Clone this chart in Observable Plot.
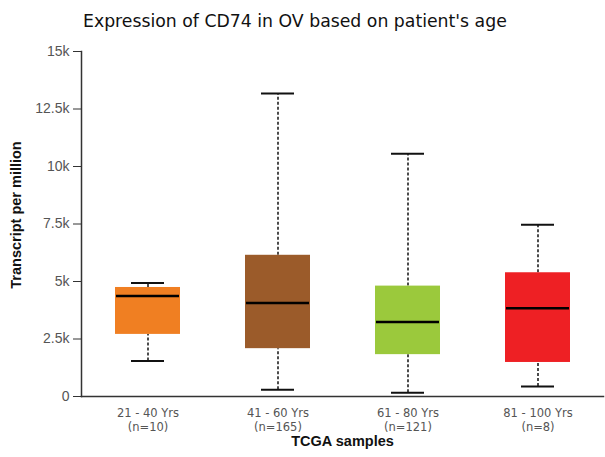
<!DOCTYPE html>
<html><head><meta charset="utf-8">
<script src="https://cdn.jsdelivr.net/npm/d3@7"></script>
<script src="https://cdn.jsdelivr.net/npm/@observablehq/plot@0.6"></script>
<style>
body{margin:0;background:#fff;}
#wrap{position:relative;width:605px;height:457px;overflow:hidden;}
#title{position:absolute;left:83px;top:11px;line-height:20px;font-family:"DejaVu Sans",sans-serif;font-size:17.3px;color:#111;white-space:nowrap;}
#chart{position:absolute;left:0;top:40px;}
</style></head><body>
<div id="wrap"><div id="title">Expression of CD74 in OV based on patient's age</div><div id="chart"></div></div>
<script>
const groups = ["21 - 40 Yrs", "41 - 60 Yrs", "61 - 80 Yrs", "81 - 100 Yrs"];
const counts = [10, 165, 121, 8];
const whiskerLow = [1540, 290, 160, 440];
const q1 = [2700, 2080, 1820, 1480];
const median = [4370, 4070, 3240, 3840];
const q3 = [4740, 6140, 4800, 5380];
const whiskerHigh = [4940, 13170, 10550, 7470];
const colors = ["#F07F22", "#9B5B2A", "#9BC93C", "#EE2024"];
const yTicks = [0, 2500, 5000, 7500, 10000, 12500, 15000];
const yTitle = "Transcript per million";
const xTitle = "TCGA samples";

const rows = groups.map((g, i) => ({
  group: g, lo: whiskerLow[i], q1: q1[i], med: median[i], q3: q3[i], hi: whiskerHigh[i], color: colors[i]
}));
const xLabel = new Map(groups.map((g, i) => [g, g + "\n(n=" + counts[i] + ")"]));

const chart = Plot.plot({
  width: 605,
  height: 417,
  marginTop: 11,
  marginBottom: 61,
  marginLeft: 81,
  marginRight: 2,
  style: {background: "#fff", overflow: "visible"},
  x: {domain: groups, paddingInner: 0.5, paddingOuter: 0.25, axis: null},
  y: {domain: [0, 15000], axis: null},
  marks: [
    Plot.ruleX(rows, {x: "group", y1: "q3", y2: "hi", stroke: "#111", strokeWidth: 1.5, strokeDasharray: "3,2"}),
    Plot.ruleX(rows, {x: "group", y1: "lo", y2: "q1", stroke: "#111", strokeWidth: 1.5, strokeDasharray: "3,2"}),
    Plot.tickY(rows, {x: "group", y: "hi", stroke: "#111", strokeWidth: 2, insetLeft: 16, insetRight: 16}),
    Plot.tickY(rows, {x: "group", y: "lo", stroke: "#111", strokeWidth: 2, insetLeft: 16, insetRight: 16}),
    Plot.barY(rows, {x: "group", y1: "q1", y2: "q3", fill: "color"}),
    Plot.tickY(rows, {x: "group", y: "med", stroke: "#000", strokeWidth: 2.5, insetLeft: 1, insetRight: 1}),
    Plot.axisY({ticks: yTicks, tickFormat: d => d === 0 ? "0" : (d / 1000) + "k", tickSize: 8, tickPadding: 4,
      fontSize: 14, fontFamily: "Liberation Sans, Arial, sans-serif", stroke: "#333", fill: "#555", label: null}),
    Plot.axisX({tickSize: 0, tickPadding: 10, fontSize: 11.5, lineHeight: 1.25, fontFamily: "DejaVu Sans, sans-serif", fill: "#555",
      tickFormat: d => xLabel.get(d), label: null}),
    Plot.frame({anchor: "left", stroke: "#333", strokeWidth: 1.5}),
    Plot.frame({anchor: "bottom", stroke: "#333", strokeWidth: 1.5}),
    Plot.text([yTitle], {frameAnchor: "left", textAnchor: "middle", rotate: -90, dx: -65, dy: -9, fontSize: 14.5, fontWeight: "bold",
      fontFamily: "Liberation Sans, Arial, sans-serif", fill: "#111"}),
    Plot.text([xTitle], {frameAnchor: "bottom", dy: 49, fontSize: 14.5, fontWeight: "bold",
      fontFamily: "Liberation Sans, Arial, sans-serif", fill: "#111"})
  ]
});
document.getElementById("chart").appendChild(chart);
</script>
</body></html>
